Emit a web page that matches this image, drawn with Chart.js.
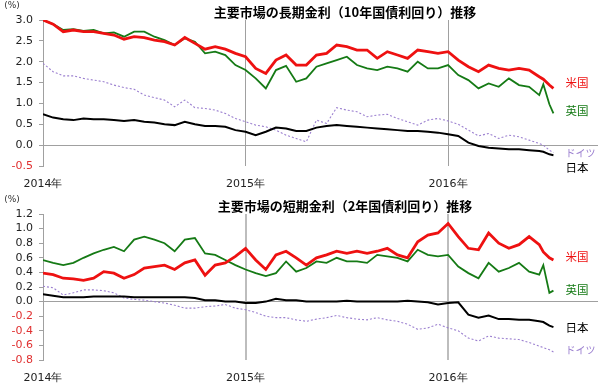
<!DOCTYPE html>
<html>
<head>
<meta charset="utf-8">
<script src="https://cdn.jsdelivr.net/npm/chart.js@4.4.1/dist/chart.umd.min.js"></script>
<style>
  html, body { margin: 0; padding: 0; background: #fff; }
  .box { width: 600px; height: 194px; }
</style>
</head>
<body>
<div class="box"><canvas id="chart10" width="600" height="194"></canvas></div>
<div class="box"><canvas id="chart2" width="600" height="194"></canvas></div>
<script>
// x = 年 (fractional year)
const years = [2014.00, 2014.05, 2014.10, 2014.15, 2014.20, 2014.25, 2014.30, 2014.35, 2014.40, 2014.45,
  2014.50, 2014.55, 2014.60, 2014.65, 2014.70, 2014.75, 2014.80, 2014.85, 2014.90, 2014.95,
  2015.00, 2015.05, 2015.10, 2015.15, 2015.20, 2015.25, 2015.30, 2015.35, 2015.40, 2015.45,
  2015.50, 2015.55, 2015.60, 2015.65, 2015.70, 2015.75, 2015.80, 2015.85, 2015.90, 2015.95,
  2016.00, 2016.05, 2016.10, 2016.15, 2016.20, 2016.25, 2016.30, 2016.35, 2016.40, 2016.45,
  2016.47, 2016.50, 2016.52];

const seriesNames = ['米国', '英国', 'ドイツ', '日本'];
const yearTicks = [2014, 2015, 2016];

// 10年国債利回り (%)
const us10 = [3.0, 2.9, 2.72, 2.76, 2.72, 2.72, 2.68, 2.64, 2.54, 2.6,
  2.58, 2.52, 2.48, 2.4, 2.58, 2.44, 2.3, 2.36, 2.3, 2.2,
  2.12, 1.84, 1.72, 2.04, 2.16, 1.92, 1.92, 2.16, 2.2, 2.4,
  2.36, 2.28, 2.28, 2.08, 2.24, 2.16, 2.08, 2.28, 2.24, 2.2,
  2.24, 2.04, 1.88, 1.76, 1.92, 1.84, 1.8, 1.84, 1.8, 1.64,
  1.58, 1.44, 1.36];
const uk10 = [3.0, 2.9, 2.76, 2.78, 2.74, 2.76, 2.68, 2.7, 2.6, 2.72,
  2.72, 2.6, 2.52, 2.4, 2.56, 2.48, 2.2, 2.24, 2.16, 1.92,
  1.8, 1.6, 1.36, 1.8, 1.9, 1.52, 1.6, 1.88, 1.96, 2.04,
  2.12, 1.92, 1.84, 1.8, 1.88, 1.84, 1.76, 2.0, 1.84, 1.84,
  1.92, 1.68, 1.56, 1.36, 1.48, 1.4, 1.6, 1.44, 1.4, 1.2,
  1.46, 0.98, 0.76];
const de10 = [1.96, 1.76, 1.66, 1.66, 1.6, 1.56, 1.52, 1.44, 1.38, 1.34,
  1.2, 1.14, 1.08, 0.92, 1.08, 0.9, 0.88, 0.84, 0.76, 0.64,
  0.56, 0.48, 0.44, 0.36, 0.24, 0.16, 0.08, 0.6, 0.52, 0.9,
  0.84, 0.8, 0.68, 0.72, 0.74, 0.64, 0.56, 0.48, 0.6, 0.64,
  0.58, 0.5, 0.36, 0.22, 0.28, 0.16, 0.24, 0.2, 0.12, 0.04,
  0.0, -0.12, -0.18];
const jp10 = [0.74, 0.66, 0.62, 0.6, 0.64, 0.62, 0.62, 0.6, 0.58, 0.6,
  0.56, 0.54, 0.5, 0.48, 0.56, 0.5, 0.46, 0.46, 0.44, 0.36,
  0.32, 0.24, 0.32, 0.42, 0.4, 0.34, 0.34, 0.42, 0.46, 0.48,
  0.46, 0.44, 0.42, 0.4, 0.38, 0.36, 0.34, 0.34, 0.32, 0.3,
  0.26, 0.22, 0.06, -0.02, -0.06, -0.08, -0.1, -0.1, -0.12, -0.14,
  -0.16, -0.22, -0.24];

// 2年国債利回り (%)
const us2 = [0.39, 0.37, 0.32, 0.31, 0.29, 0.32, 0.41, 0.39, 0.32, 0.37,
  0.46, 0.48, 0.5, 0.44, 0.53, 0.57, 0.36, 0.5, 0.53, 0.62,
  0.73, 0.57, 0.44, 0.64, 0.69, 0.6, 0.5, 0.6, 0.64, 0.69,
  0.66, 0.69, 0.66, 0.69, 0.73, 0.64, 0.6, 0.82, 0.91, 0.94,
  1.07, 0.89, 0.73, 0.71, 0.94, 0.8, 0.73, 0.78, 0.89, 0.78,
  0.68, 0.6, 0.57];
const uk2 = [0.57, 0.53, 0.5, 0.53, 0.6, 0.66, 0.71, 0.75, 0.69, 0.85,
  0.89, 0.85, 0.8, 0.69, 0.85, 0.87, 0.66, 0.64, 0.57, 0.5,
  0.44, 0.39, 0.35, 0.39, 0.55, 0.41, 0.46, 0.55, 0.53, 0.6,
  0.55, 0.55, 0.53, 0.64, 0.62, 0.6, 0.55, 0.71, 0.64, 0.62,
  0.64, 0.48, 0.39, 0.32, 0.53, 0.41, 0.46, 0.53, 0.41, 0.37,
  0.5, 0.12, 0.15];
const de2 = [0.21, 0.19, 0.09, 0.12, 0.16, 0.16, 0.15, 0.12, 0.05, 0.03,
  0.02, 0.0, -0.02, -0.05, -0.09, -0.09, -0.07, -0.06, -0.04, -0.09,
  -0.11, -0.15, -0.2, -0.22, -0.22, -0.25, -0.27, -0.24, -0.22, -0.19,
  -0.22, -0.24, -0.25, -0.22, -0.25, -0.27, -0.31, -0.38, -0.36, -0.31,
  -0.36, -0.4, -0.5, -0.54, -0.47, -0.5, -0.51, -0.52, -0.56, -0.61,
  -0.63, -0.66, -0.69];
const jp2 = [0.1, 0.08, 0.06, 0.06, 0.06, 0.07, 0.07, 0.07, 0.07, 0.06,
  0.06, 0.06, 0.06, 0.06, 0.06, 0.05, 0.02, 0.02, 0.0, 0.0,
  -0.02, -0.02, 0.0, 0.04, 0.02, 0.02, 0.0, 0.0, 0.0, 0.0,
  0.01, 0.0, 0.0, 0.0, 0.0, 0.0, 0.01, 0.0, -0.01, -0.04,
  -0.02, -0.01, -0.18, -0.22, -0.19, -0.24, -0.24, -0.25, -0.25, -0.27,
  -0.28, -0.33, -0.35];

const colors = ['#ee1111', '#157a15', '#9c80d0', '#000000'];
const tickFont = { family: '"DejaVu Sans", sans-serif', size: 11 };

function toPoints(vals) {
  return vals.map((v, i) => ({ x: years[i], y: v }));
}

// title, (%) and the country names on the right
const sideText = {
  id: 'sideText',
  afterDraw(chart, args, opts) {
    const c = chart.ctx;
    const ys = chart.scales.y;
    const xs = chart.scales.x;
    c.save();
    c.textBaseline = 'middle';
    c.textAlign = 'center';
    c.fillStyle = '#000';
    c.font = 'bold 13px "Noto Sans CJK JP"';
    c.fillText(opts.title, 345, 12);
    c.font = '9px "DejaVu Sans"';
    c.fillStyle = '#333';
    c.fillText('(%)', 12, 6);
    c.textAlign = 'left';
    opts.labels.forEach((lab) => {
      c.font = (lab.text.length > 2 ? '10px' : '11.5px') + ' "Noto Sans CJK JP"';
      c.fillStyle = lab.color;
      c.fillText(lab.text, xs.getPixelForValue(2016.58), ys.getPixelForValue(lab.value));
    });
    c.restore();
  }
};

function makeChart(id, vals, title, yMin, yMax, yStep, labelVals, thickGrid) {
  const ctx = document.getElementById(id).getContext('2d');
  const datasets = vals.map((v, i) => ({
    label: seriesNames[i],
    data: toPoints(v),
    borderColor: colors[i],
    borderWidth: [2.8, 1.8, 1.1, 2][i],
    borderDash: i === 2 ? [2, 2] : [],
    pointRadius: 0,
    tension: 0,
    order: [1, 2, 3, 0][i]
  }));

  return new Chart(ctx, {
    type: 'line',
    data: { datasets: datasets },
    options: {
      responsive: false,
      animation: false,
      layout: { padding: { top: 20, right: 2, left: 0, bottom: 0 } },
      plugins: {
        legend: { display: false },
        tooltip: { enabled: false },
        sideText: {
          title: title,
          labels: seriesNames.map((n, i) => ({ text: n, value: labelVals[i], color: colors[i] }))
        }
      },
      scales: {
        x: {
          type: 'linear',
          min: 2014,
          max: 2016.74,
          afterFit: (s) => { s.height = 28; },
          afterBuildTicks: (s) => { s.ticks = yearTicks.map(v => ({ value: v })); },
          ticks: {
            font: tickFont,
            color: '#222',
            padding: 12,
            maxRotation: 0,
            autoSkip: false,
            callback: (v) => v + '年'
          },
          grid: {
            color: (c) => (c.tick && c.tick.value === 2014) ? 'rgba(0,0,0,0)' : (thickGrid ? '#bdbdbd' : '#a0a0a0'),
            lineWidth: thickGrid ? 2 : 1,
            drawTicks: false
          },
          border: { display: false }
        },
        y: {
          min: yMin,
          max: yMax,
          afterFit: (s) => { s.width = 43; },
          ticks: {
            stepSize: yStep,
            autoSkip: false,
            font: tickFont,
            padding: 6,
            color: (c) => c.tick.value < -0.001 ? '#e03030' : '#222',
            callback: (v) => Number(v).toFixed(1)
          },
          grid: {
            color: (c) => (c.tick && Math.abs(c.tick.value) < 0.001) ? '#a0a0a0' : 'rgba(0,0,0,0)',
            tickColor: '#a0a0a0',
            tickLength: 4
          },
          border: { color: '#a0a0a0' }
        }
      }
    },
    plugins: [sideText]
  });
}

makeChart('chart10', [us10, uk10, de10, jp10], '主要市場の長期金利（10年国債利回り）推移',
  -0.5, 3.0, 0.5, [1.51, 0.82, -0.19, -0.55], false);
makeChart('chart2', [us2, uk2, de2, jp2], '主要市場の短期金利（2年国債利回り）推移',
  -0.8, 1.2, 0.2, [0.62, 0.16, -0.67, -0.35], true);
</script>
</body>
</html>
